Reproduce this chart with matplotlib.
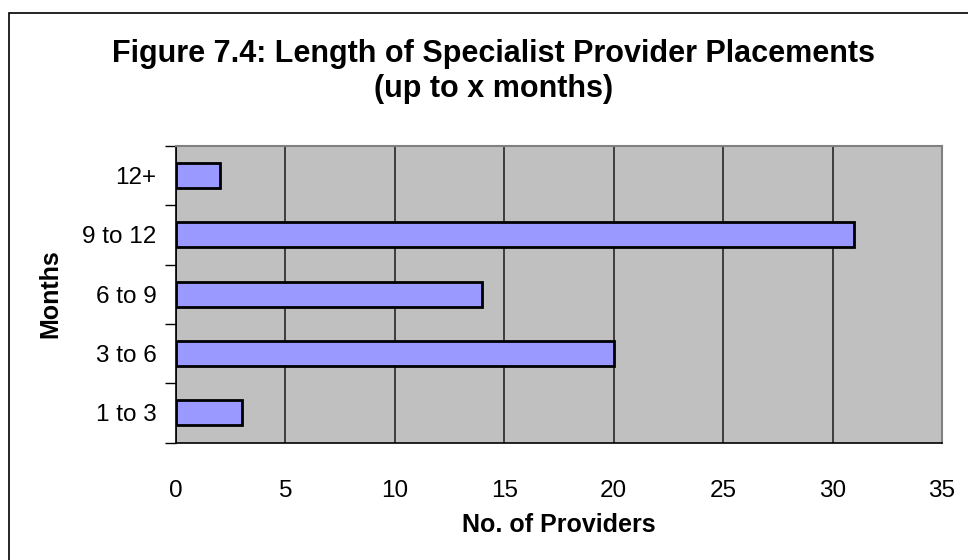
import matplotlib
matplotlib.use("Agg")
import matplotlib.pyplot as plt
from matplotlib.patches import Rectangle

categories = ["1 to 3", "3 to 6", "6 to 9", "9 to 12", "12+"]
values = [3, 20, 14, 31, 2]
xticks = [0, 5, 10, 15, 20, 25, 30, 35]

plt.rcParams['font.family'] = ['Liberation Sans', 'DejaVu Sans']

W, H = 968, 560
fig = plt.figure(figsize=(W / 100, H / 100), dpi=100)
fig.patch.set_facecolor("white")

def fx(px):
    return px / W

def fy(py):
    return 1 - py / H

# outer chart border (left/top visible, right/bottom outside the image)
fig.add_artist(Rectangle((fx(9), -1), 2, fy(13) + 1, transform=fig.transFigure,
                         fill=False, edgecolor="black", linewidth=1.2))

left, right, top, bottom = 176, 942, 146, 442.5
ax = fig.add_axes([fx(left), fy(bottom), (right - left) / W, (bottom - top) / H])
ax.set_facecolor("#C0C0C0")

y = list(range(len(categories)))
ax.barh(y, values, height=0.42, color="#9999FF", edgecolor="black", linewidth=2, zorder=3)

ax.set_xlim(0, 35)
ax.set_ylim(-0.5, len(categories) - 0.5)
ax.set_xticks(xticks)
ax.set_xticklabels([str(v) for v in xticks], fontsize=17.5)
ax.set_yticks(y)
ax.set_yticklabels(categories, fontsize=17.5)
ax.tick_params(axis="y", length=0, pad=14)
ax.tick_params(axis="x", length=0, pad=27)
# category boundary ticks
ax.set_yticks([i - 0.5 for i in range(len(categories) + 1)], minor=True)
ax.tick_params(axis="y", which="minor", length=8, width=1, color="black")
ax.set_xticks(xticks, minor=True)
ax.tick_params(axis="x", which="minor", length=8, width=1, color="black")

ax.grid(axis="x", color="#333333", linewidth=1.3, zorder=1)
ax.set_axisbelow(True)
for s in ["top", "right"]:
    ax.spines[s].set_color("#808080")
    ax.spines[s].set_linewidth(1.5)
for s in ["left", "bottom"]:
    ax.spines[s].set_color("black")
    ax.spines[s].set_linewidth(1.2)

fig.text(fx(559), fy(532), "No. of Providers", ha="center", va="baseline",
         fontsize=18, fontweight="bold")
fig.text(fx(50), fy(294), "Months", ha="center", va="center", rotation=90,
         fontsize=18, fontweight="bold")

fig.text(fx(494), fy(62), "Figure 7.4: Length of Specialist Provider Placements",
         ha="center", va="baseline", fontsize=22, fontweight="bold")
fig.text(fx(494), fy(97), "(up to x months)",
         ha="center", va="baseline", fontsize=22, fontweight="bold")

fig.savefig("out.png", dpi=100)
